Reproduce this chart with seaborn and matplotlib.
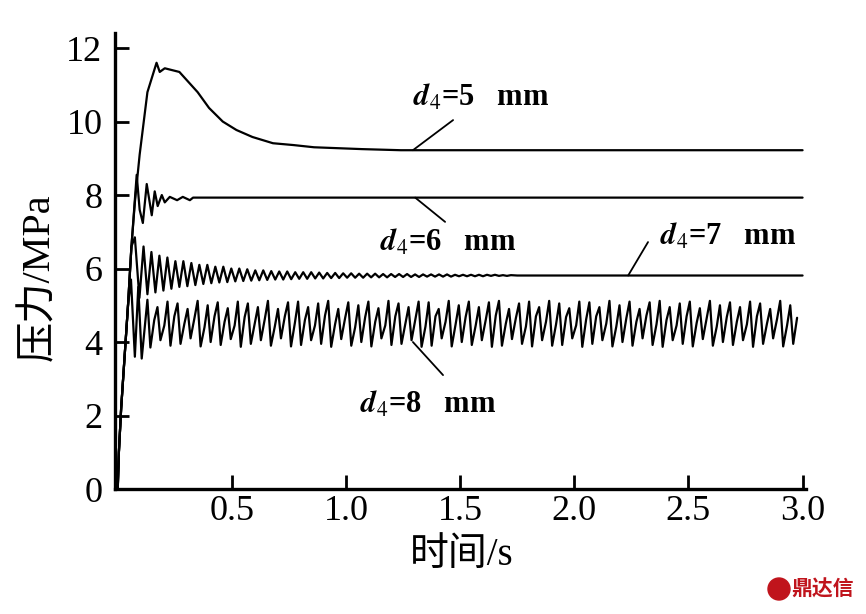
import numpy as np
import pandas as pd
import matplotlib
matplotlib.use('Agg')
import matplotlib.pyplot as plt
from matplotlib.patches import Circle
import seaborn as sns

# ДАННЫЕ
# общий участок подъёма давления
t_rise = [0.0, 0.005, 0.015, 0.03, 0.045]
p_rise = [0.0, 1.0, 2.2, 3.6, 5.0]

# d4 = 5 mm
t5 = [0.06, 0.075, 0.096, 0.11, 0.13, 0.15, 0.17, 0.184, 0.206, 0.27, 0.35, 0.40,
      0.46, 0.52, 0.59, 0.68, 0.77, 0.86, 1.07, 1.24, 3.0]
p5 = [6.6, 7.8, 9.1, 9.8, 10.8, 11.2, 11.6, 11.35, 11.45, 11.35, 10.8, 10.37,
      10.0, 9.77, 9.58, 9.41, 9.36, 9.3, 9.25, 9.22, 9.22]

# d4 = 6 mm
t6 = [0.06, 0.083, 0.096, 0.11, 0.127, 0.149, 0.162, 0.175, 0.193, 0.206, 0.228,
      0.26, 0.285, 0.316, 0.33, 3.0]
p6 = [6.6, 8.55, 7.6, 7.24, 8.3, 7.45, 8.1, 7.7, 8.0, 7.8, 7.95,
      7.86, 7.95, 7.86, 7.93, 7.93]

# d4 = 7 mm: начало, затухающие колебания (впадина/пик за цикл), установившийся уровень
t7_start = [0.06, 0.075, 0.095, 0.113]
p7_start = [6.6, 6.85, 5.2, 6.6]
period7 = 0.035
peaks7 = [6.45, 6.35, 6.3, 6.2, 6.2, 6.15, 6.1, 6.1, 6.05, 6.05,
          6.0, 6.0, 5.98, 5.95, 5.95, 5.93, 5.92, 5.92, 5.9, 5.9,
          5.9, 5.89, 5.88, 5.88, 5.87, 5.87, 5.86, 5.86, 5.86, 5.85,
          5.85, 5.85, 5.85, 5.84, 5.84, 5.84, 5.84, 5.84, 5.83, 5.83,
          5.83, 5.83, 5.83, 5.83, 5.82, 5.82]
troughs7 = [5.3, 5.35, 5.4, 5.45, 5.5, 5.52, 5.55, 5.58, 5.6, 5.62,
            5.63, 5.65, 5.66, 5.67, 5.68, 5.69, 5.7, 5.7, 5.71, 5.72,
            5.72, 5.73, 5.73, 5.74, 5.74, 5.75, 5.75, 5.75, 5.76, 5.76,
            5.76, 5.77, 5.77, 5.77, 5.77, 5.78, 5.78, 5.78, 5.78, 5.79,
            5.79, 5.79, 5.79, 5.8, 5.8, 5.8]
t7_end = [1.75, 3.0]
p7_end = [5.81, 5.81]

# d4 = 8 mm: начало и незатухающие колебания (пик, впадина, плечо за цикл)
t8_start = [0.058, 0.075, 0.09, 0.105]
p8_start = [5.7, 3.6, 5.5, 3.55]
period8 = 0.044
peaks8 = [5.15, 4.95, 5.10, 5.05, 4.90, 5.12, 5.00, 5.08, 4.92, 5.10, 5.05, 4.95, 5.12,
          4.90, 5.08, 5.10, 4.95, 5.05, 5.12, 4.90, 5.08, 5.00, 5.10, 4.92, 5.12, 5.05,
          4.95, 5.10, 5.08, 4.90, 5.12, 5.00, 5.10, 4.95, 5.08, 5.12, 4.90, 5.05, 5.10,
          4.95, 5.12, 5.05, 4.92, 5.10, 5.08, 4.95, 5.12, 5.00, 5.10, 4.90, 5.08, 5.12,
          4.95, 5.05, 5.10, 4.92, 5.12, 5.00, 5.08, 4.95, 5.10, 5.05, 4.90, 5.12, 5.00]
troughs8 = [3.85, 4.05, 3.90, 3.95, 4.10, 3.88, 4.00, 3.92, 4.08, 3.87, 3.95, 4.05, 3.90,
            4.10, 3.88, 3.92, 4.05, 3.95, 3.87, 4.08, 3.90, 4.00, 3.88, 4.10, 3.92, 3.95,
            4.05, 3.87, 3.90, 4.10, 3.88, 4.00, 3.92, 4.05, 3.87, 3.90, 4.08, 3.95, 3.88,
            4.05, 3.90, 3.92, 4.10, 3.87, 3.95, 4.05, 3.88, 4.00, 3.90, 4.10, 3.92, 3.87,
            4.05, 3.95, 3.88, 4.08, 3.90, 4.00, 3.92, 4.05, 3.87, 3.95, 4.10, 3.88, 3.95]
mids8 = [4.60, 4.45, 4.70, 4.50, 4.65, 4.40, 4.70, 4.55, 4.45, 4.68, 4.50, 4.62, 4.42,
         4.70, 4.52, 4.60, 4.45, 4.72, 4.48, 4.65, 4.40, 4.68, 4.55, 4.45, 4.70, 4.50,
         4.62, 4.42, 4.70, 4.55, 4.48, 4.68, 4.45, 4.60, 4.72, 4.50, 4.65, 4.42, 4.70,
         4.55, 4.48, 4.68, 4.45, 4.62, 4.70, 4.50, 4.42, 4.65, 4.55, 4.72, 4.48, 4.60,
         4.45, 4.70, 4.52, 4.65, 4.42, 4.68, 4.55, 4.48, 4.70, 4.50, 4.62, 4.45, 4.66]

label_texts = [r'$\mathbfit{d}_4$=5   mm', r'$\mathbfit{d}_4$=6   mm',
               r'$\mathbfit{d}_4$=7   mm', r'$\mathbfit{d}_4$=8   mm']
# позиции подписей и выносок в координатах данных (t, p)
label_pos = [(1.293, 10.64), (1.149, 6.69), (2.376, 6.86), (1.061, 2.29)]
leader_from = [(1.293, 9.22), (1.303, 7.93), (2.236, 5.81), (1.293, 4.0)]
leader_to = [(1.469, 10.04), (1.434, 7.27), (2.323, 6.72), (1.425, 3.1)]

xtick_vals = [0.5, 1.0, 1.5, 2.0, 2.5, 3.0]
xtick_labels = ['0.5', '1.0', '1.5', '2.0', '2.5', '3.0']
ytick_vals = [0, 2, 4, 6, 8, 10, 12]
ytick_labels = ['0', '2', '4', '6', '8', '10', '12']


# СБОРКА ТАБЛИЦЫ
def build_curves() -> pd.DataFrame:
    c7 = 0.13 + period7 * np.arange(len(peaks7))
    t7_osc = np.column_stack([c7, c7 + period7 / 2]).ravel()
    p7_osc = np.column_stack([troughs7, peaks7]).ravel()

    c8 = 0.13 + period8 * np.arange(len(peaks8))
    t8_osc = np.column_stack([c8, c8 + 0.013, c8 + 0.03]).ravel()
    p8_osc = np.column_stack([peaks8, troughs8, mids8]).ravel()

    parts = {
        'd4=5': (t_rise + t5, p_rise + p5),
        'd4=6': (t_rise + t6, p_rise + p6),
        'd4=7': (np.concatenate([t_rise, t7_start, t7_osc, t7_end]),
                 np.concatenate([p_rise, p7_start, p7_osc, p7_end])),
        'd4=8': (np.concatenate([t_rise, t8_start, t8_osc]),
                 np.concatenate([p_rise, p8_start, p8_osc])),
    }
    frames = []
    for name, (t, p) in parts.items():
        frames.append(pd.DataFrame({'t': t, 'p': p, 'curve': name}))
    return pd.concat(frames, ignore_index=True)


df = build_curves()

sns.set_theme(style='ticks')
plt.rcParams['font.family'] = ['Liberation Serif', 'Noto Sans CJK SC']
plt.rcParams['mathtext.fontset'] = 'stix'
plt.rcParams['axes.unicode_minus'] = False

W, H = 866, 614
fig = plt.figure(figsize=(W / 100, H / 100), dpi=100)
ax = fig.add_axes([115 / W, 1 - 489 / H, 691 / W, 456 / H])

sns.lineplot(data=df, x='t', y='p', hue='curve', units='curve', estimator=None,
             palette=['black'] * 4, legend=False, linewidth=1.6, sort=False, ax=ax)

ax.set_xlim(-0.012, 3.015)
ax.set_ylim(0, 12.41)
ax.set_xticks(xtick_vals)
ax.set_xticklabels(xtick_labels)
ax.set_yticks(ytick_vals)
ax.set_yticklabels(ytick_labels)
ax.tick_params(direction='in', length=10, width=2, labelsize=26, colors='black')
ax.tick_params(axis='y', pad=9)
ax.tick_params(axis='x', pad=4)

for side in ['top', 'right']:
    ax.spines[side].set_visible(False)
for side in ['left', 'bottom']:
    ax.spines[side].set_linewidth(2.4)
    ax.spines[side].set_color('black')

ax.set_xlabel('时间/s', fontsize=28, color='black')
ax.set_ylabel('压力/MPa', fontsize=29, color='black')
ax.xaxis.set_label_coords(0.502, -0.105)
ax.yaxis.set_label_coords(-0.083, 0.465)

for txt, pos, a, b in zip(label_texts, label_pos, leader_from, leader_to):
    ax.text(pos[0], pos[1], txt, fontsize=22, fontweight='bold', ha='left', va='center',
            color='black')
    ax.annotate('', xy=a, xytext=b,
                arrowprops=dict(arrowstyle='-', lw=1.3, color='black', shrinkA=0, shrinkB=0))

# водяной знак
fig.patches.append(Circle((7.79, 0.25), 0.11, transform=fig.dpi_scale_trans,
                          color='#c0141c', zorder=5))
fig.text(0.950, 0.041, '鼎达信', color='#c0141c', fontsize=15, fontweight='bold',
         family='Noto Sans CJK SC', ha='center', va='center')

fig.savefig('out.png', dpi=100)
